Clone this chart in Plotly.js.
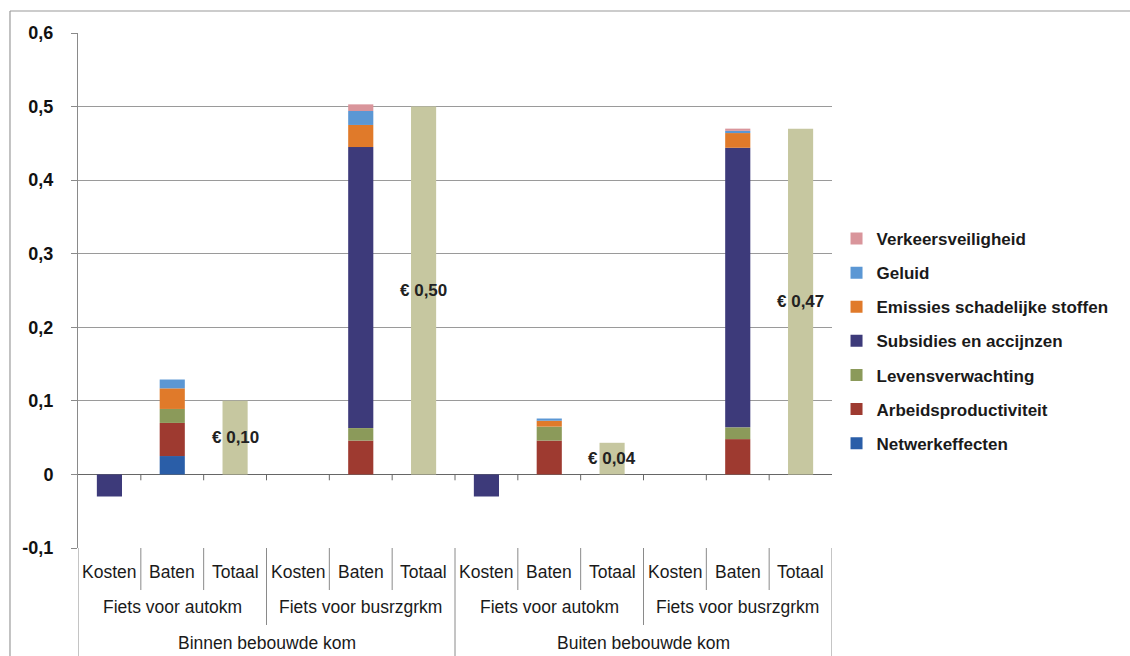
<!DOCTYPE html>
<html>
<head>
<meta charset="utf-8">
<script src="https://cdn.plot.ly/plotly-3.0.1.min.js"></script>
<style>html,body{margin:0;padding:0;background:#fff;}#chart{width:1130px;height:656px;}</style>
</head>
<body>
<div id="chart"></div>
<script>
// ---- data ----
var categories = ["Kosten","Baten","Totaal","Kosten","Baten","Totaal","Kosten","Baten","Totaal","Kosten","Baten","Totaal"];
var subgroups = ["Fiets voor autokm","Fiets voor busrzgrkm","Fiets voor autokm","Fiets voor busrzgrkm"];
var groups = ["Binnen bebouwde kom","Buiten bebouwde kom"];

var seriesNames = ["Netwerkeffecten","Arbeidsproductiviteit","Levensverwachting","Subsidies en accijnzen","Emissies schadelijke stoffen","Geluid","Verkeersveiligheid"];
var netwerkeffecten      = [null,0.025,null, null,null,null,  null,null,null,  null,null,null];
var arbeidsproductiviteit= [null,0.045,null, null,0.046,null, null,0.046,null, null,0.048,null];
var levensverwachting    = [null,0.019,null, null,0.017,null, null,0.019,null, null,0.016,null];
var subsidies            = [-0.03,null,null, null,0.382,null, -0.03,null,null, null,0.380,null];
var emissies             = [null,0.028,null, null,0.030,null, null,0.008,null, null,0.020,null];
var geluid               = [null,0.012,null, null,0.019,null, null,0.003,null, null,0.003,null];
var verkeersveiligheid   = [null,null,null,  null,0.009,null, null,null,null,  null,0.003,null];
var totaal               = [null,null,0.10,  null,null,0.50,  null,null,0.043, null,null,0.47];
var totaalLabels = ["€ 0,10","€ 0,50","€ 0,04","€ 0,47"];

var yTickVals = [0.6,0.5,0.4,0.3,0.2,0.1,0,-0.1];
var yTickText = ["0,6","0,5","0,4","0,3","0,2","0,1","0","-0,1"];

// ---- styles ----
var colors = ["#2a5ea8","#9e3a30","#8b9a5a","#3d3a7a","#e07a2a","#5b97d4","#d9959b"];
var totaalColor = "#c6c7a0";
var seriesValues = [netwerkeffecten,arbeidsproductiviteit,levensverwachting,subsidies,emissies,geluid,verkeersveiligheid];
var xIdx = categories.map(function(_, i){return i;});
var fontFam = "Liberation Sans, Arial, sans-serif";

var traces = seriesNames.map(function(n, k){
  return {type:"bar", name:n, x:xIdx, y:seriesValues[k], width:0.4,
    marker:{color:colors[k]}, legendgroup:"g"+k, legendrank:100 - k, hoverinfo:"name+y"};
});
traces.push({type:"bar", name:"Totaal", x:xIdx, y:totaal, width:0.4,
  marker:{color:totaalColor}, showlegend:false});

// ---- annotations & shapes ----
var annotations = [];
var shapes = [];
var rowY = [-0.0466,-0.1146,-0.1845];
var catFont = {family:fontFam, size:17.5, color:"#1a1a1a"};
categories.forEach(function(c, i){
  annotations.push({x:i, y:rowY[0], xref:"x", yref:"paper", text:c, showarrow:false,
    font:catFont, yanchor:"middle"});
});
subgroups.forEach(function(s, j){
  annotations.push({x:j*3+1, y:rowY[1], xref:"x", yref:"paper", text:s, showarrow:false,
    font:catFont, yanchor:"middle"});
});
groups.forEach(function(g, j){
  annotations.push({x:j*6+2.5, y:rowY[2], xref:"x", yref:"paper", text:g, showarrow:false,
    font:catFont, yanchor:"middle"});
});
var tIdx = 0;
totaal.forEach(function(v, i){
  if (v !== null) {
    annotations.push({x:i, y:v/2, xref:"x", yref:"y", text:totaalLabels[tIdx++], showarrow:false,
      font:{family:fontFam, size:17, color:"#222", weight:"bold"}, yanchor:"middle"});
  }
});

var lineCol = "#8a8a8a";
// table dividers
for (var b = -0.5; b <= 11.5; b += 1) {
  var k = b + 0.5; // count of categories to the left
  var bottom;
  if (k % 6 === 0) bottom = -0.21;
  else if (k % 3 === 0) bottom = -0.1495;
  else bottom = -0.0816;
  shapes.push({type:"line", xref:"x", yref:"paper", x0:b, x1:b, y0:0, y1:bottom,
    line:{color:lineCol, width:1}});
  if (b > -0.5 && b < 11.5) {
    shapes.push({type:"line", xref:"x", yref:"y", x0:b, x1:b, y0:0, y1:-0.008,
      line:{color:"#666", width:1}});
  }
}
// outer frame (top and left)
shapes.push({type:"line", xref:"paper", yref:"paper", x0:-0.0902, x1:1.4, y0:1.0427, y1:1.0427,
  line:{color:"#9a9a9a", width:1.2}});
shapes.push({type:"line", xref:"paper", yref:"paper", x0:-0.0902, x1:-0.0902, y0:1.0427, y1:-0.22,
  line:{color:"#9a9a9a", width:1.2}});

var layout = {
  width:1130, height:656,
  margin:{l:78, r:298, t:33, b:108},
  paper_bgcolor:"#ffffff", plot_bgcolor:"#ffffff",
  barmode:"relative",
  showlegend:true,
  legend:{x:1.006, y:0.635, xanchor:"left", yanchor:"top", traceorder:"grouped",
    tracegroupgap:9, font:{family:fontFam, size:17, color:"#1a1a1a", weight:"bold"},
    bgcolor:"rgba(0,0,0,0)"},
  xaxis:{range:[-0.5,11.5], showticklabels:false, showgrid:false, zeroline:false,
    showline:false, fixedrange:true},
  yaxis:{range:[-0.1,0.6], tickvals:yTickVals, ticktext:yTickText, showgrid:true,
    gridcolor:"#9a9a9a", gridwidth:1, zeroline:true, zerolinecolor:"#666", zerolinewidth:1,
    showline:true, linecolor:"#8a8a8a", linewidth:1, ticks:"outside", ticklen:6, tickcolor:"#8a8a8a",
    ticklabelstandoff:14,
    tickfont:{family:fontFam, size:18, color:"#111", weight:"bold"}, fixedrange:true},
  annotations:annotations,
  shapes:shapes
};

Plotly.newPlot("chart", traces, layout, {displayModeBar:false, staticPlot:true});
</script>
</body>
</html>
